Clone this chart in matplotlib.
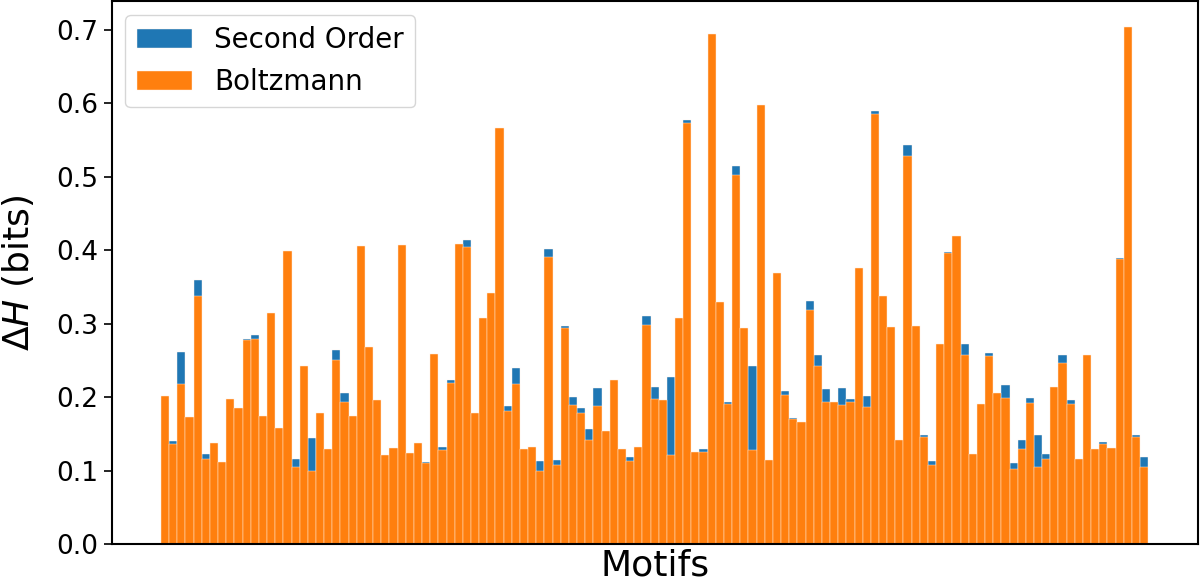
import matplotlib
matplotlib.use('Agg')
import matplotlib.pyplot as plt
import numpy as np

# -------------------------- Data --------------------------
# Boltzmann model entropy gain per motif (orange bars)
boltzmann = [
    0.202, 0.136, 0.218, 0.173, 0.338, 0.116, 0.137, 0.112, 0.198, 0.185,
    0.278, 0.279, 0.175, 0.314, 0.158, 0.399, 0.105, 0.242, 0.099, 0.178,
    0.129, 0.251, 0.194, 0.175, 0.406, 0.268, 0.196, 0.121, 0.131, 0.407,
    0.124, 0.137, 0.110, 0.259, 0.128, 0.219, 0.408, 0.405, 0.178, 0.308,
    0.342, 0.567, 0.181, 0.218, 0.129, 0.132, 0.099, 0.391, 0.107, 0.294,
    0.189, 0.178, 0.142, 0.188, 0.154, 0.224, 0.129, 0.113, 0.132, 0.298,
    0.198, 0.196, 0.121, 0.308, 0.573, 0.126, 0.126, 0.694, 0.329, 0.191,
    0.502, 0.294, 0.128, 0.598, 0.115, 0.369, 0.203, 0.170, 0.166, 0.319,
    0.242, 0.194, 0.194, 0.190, 0.194, 0.376, 0.186, 0.586, 0.338, 0.295,
    0.142, 0.529, 0.297, 0.146, 0.107, 0.273, 0.396, 0.419, 0.258, 0.122,
    0.191, 0.256, 0.206, 0.199, 0.102, 0.129, 0.192, 0.105, 0.116, 0.214,
    0.246, 0.191, 0.116, 0.258, 0.129, 0.136, 0.131, 0.388, 0.704, 0.146,
    0.105,
]

# Second order model (blue bars, drawn behind the orange ones)
second_order = [
    0.202, 0.140, 0.261, 0.173, 0.360, 0.122, 0.137, 0.112, 0.198, 0.185,
    0.279, 0.284, 0.175, 0.314, 0.158, 0.399, 0.116, 0.242, 0.144, 0.178,
    0.129, 0.264, 0.206, 0.175, 0.406, 0.268, 0.196, 0.121, 0.131, 0.407,
    0.124, 0.137, 0.112, 0.259, 0.132, 0.224, 0.408, 0.414, 0.178, 0.308,
    0.342, 0.567, 0.188, 0.240, 0.129, 0.132, 0.113, 0.402, 0.114, 0.297,
    0.200, 0.185, 0.157, 0.213, 0.154, 0.224, 0.129, 0.119, 0.132, 0.310,
    0.214, 0.196, 0.227, 0.308, 0.577, 0.126, 0.129, 0.694, 0.329, 0.193,
    0.515, 0.294, 0.242, 0.598, 0.115, 0.369, 0.208, 0.172, 0.166, 0.331,
    0.258, 0.211, 0.194, 0.213, 0.197, 0.376, 0.201, 0.589, 0.338, 0.295,
    0.142, 0.543, 0.297, 0.148, 0.113, 0.273, 0.398, 0.419, 0.273, 0.122,
    0.191, 0.260, 0.206, 0.217, 0.110, 0.141, 0.199, 0.149, 0.123, 0.214,
    0.258, 0.196, 0.116, 0.258, 0.129, 0.139, 0.131, 0.390, 0.704, 0.148,
    0.118,
]

x_pos = np.arange(len(boltzmann))

# -------------------------- Plot --------------------------
fig, ax = plt.subplots(figsize=(12, 5.85), dpi=100)
fig.subplots_adjust(left=0.093, right=0.998, top=0.998, bottom=0.070)

# thin light edges give the faint seams seen between bars in the original
ax.bar(x_pos, second_order, width=1.0, color='#1f77b4', edgecolor='#fff4ea',
       linewidth=0.3, label='Second Order')
ax.bar(x_pos, boltzmann, width=1.0, color='#ff7f0e', edgecolor='#fff4ea',
       linewidth=0.3, label='Boltzmann')

ax.set_xticks([])
ax.tick_params(axis='y', labelsize=19, length=6, width=1.2)
for spine in ax.spines.values():
    spine.set_linewidth(1.5)

ax.set_ylabel(r'$\Delta H$ (bits)', fontsize=26, labelpad=15)
ax.set_xlabel('Motifs', fontsize=26, labelpad=3)

ax.legend(loc='upper left', fontsize=20, frameon=True)

plt.savefig('out.png', dpi=100)
